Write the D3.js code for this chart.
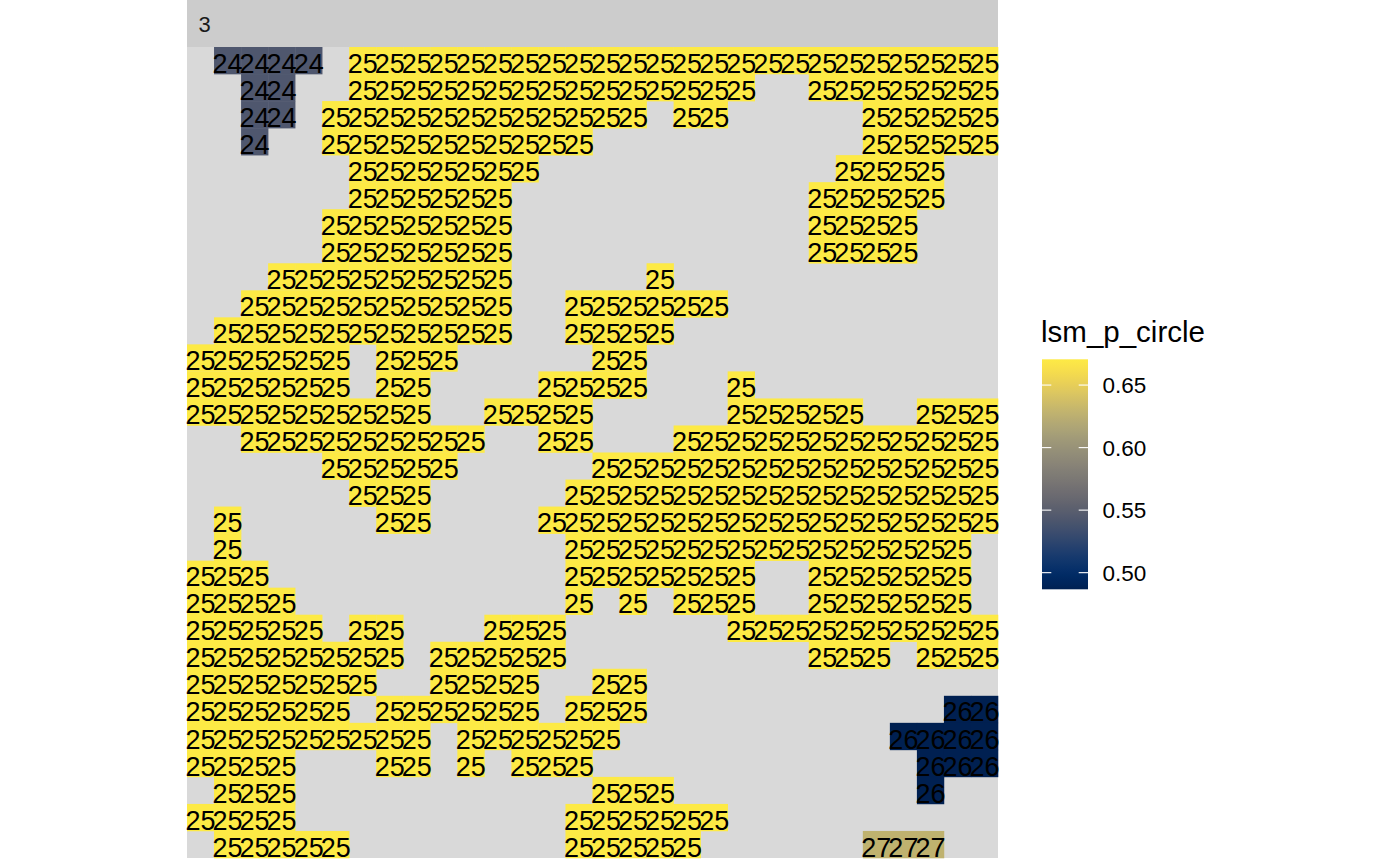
<!DOCTYPE html>
<html>
<head>
<meta charset="utf-8">
<script src="https://cdn.jsdelivr.net/npm/d3@7"></script>
<style>
  html, body { margin: 0; padding: 0; background: #ffffff; }
  svg { display: block; }
  text { font-family: "Liberation Sans", Arial, Helvetica, sans-serif; }
</style>
</head>
<body>
<svg id="chart" width="1400" height="866"></svg>
<script>
// ---- data -------------------------------------------------------------
// facet label
const facetLabel = "3";
// raster: one string per row (top to bottom), one char per column
// '.' = no patch, digit d = patch id "2d"
const gridRows = [
  ".4444.555555555555555555555555",
  "..44..555555555555555..5555555",
  "..44.555555555555.55.....55555",
  "..4..5555555555..........55555",
  "......5555555...........5555..",
  "......555555...........55555..",
  ".....5555555...........5555...",
  ".....5555555...........5555...",
  "...555555555.....5............",
  "..5555555555..555555..........",
  ".55555555555..5555............",
  "555555.555.....55.............",
  "555555.55....5555...5.........",
  "555555555..5555.....55555..555",
  "..555555555..55...555555555555",
  ".....55555.....555555555555555",
  "......555.....5555555555555555",
  ".5.....55....55555555555555555",
  ".5............555555555555555.",
  "555...........5555555..555555.",
  "5555..........5.5.555..555555.",
  "55555.55...555......5555555555",
  "55555555.55555.........555.555",
  "5555555..5555..55.............",
  "555555.555555.555...........66",
  "555555555.555555..........6666",
  "5555...55.5.555............666",
  ".555...........555.........6..",
  "5555..........555555..........",
  ".55555........55555......777.."
];
// patch ids and their lsm_p_circle values
const patchIds = [24, 25, 26, 27];
const patchValues = [0.543, 0.6706, 0.4867, 0.627];
// legend
const legendTitle = "lsm_p_circle";
const legendTicks = [0.50, 0.55, 0.60, 0.65];

// ---- build cells ------------------------------------------------------
const valueById = new Map(patchIds.map((id, i) => [id, patchValues[i]]));
const nRows = gridRows.length;
const nCols = gridRows[0].length;
const cells = [];
gridRows.forEach((row, r) => {
  for (let c = 0; c < row.length; c++) {
    const ch = row[c];
    if (ch === ".") continue;
    const id = 20 + (+ch);
    cells.push({ row: r, col: c, id: id, value: valueById.get(id) });
  }
});

// ---- layout -----------------------------------------------------------
const svg = d3.select("#chart");
const panel = { x0: 187, x1: 998, y0: 47, y1: 858 };
const strip = { y0: 0, y1: 47 };

const x = d3.scaleBand().domain(d3.range(nCols)).range([panel.x0, panel.x1]).padding(0);
const y = d3.scaleBand().domain(d3.range(nRows)).range([panel.y0, panel.y1]).padding(0);

const vmin = d3.min(patchValues), vmax = d3.max(patchValues);
const color = d3.scaleSequential(d3.interpolateCividis).domain([vmin, vmax]);

// strip
svg.append("rect")
  .attr("x", panel.x0).attr("y", strip.y0)
  .attr("width", panel.x1 - panel.x0).attr("height", strip.y1 - strip.y0)
  .attr("fill", "#cccccc");
svg.append("text")
  .attr("x", 198.5).attr("y", 31.5)
  .attr("font-size", 22).attr("fill", "#1a1a1a")
  .text(facetLabel);

// panel background
svg.append("rect")
  .attr("x", panel.x0).attr("y", panel.y0)
  .attr("width", panel.x1 - panel.x0).attr("height", panel.y1 - panel.y0)
  .attr("fill", "#d9d9d9");

// tiles
svg.append("g").selectAll("rect").data(cells).join("rect")
  .attr("x", d => x(d.col))
  .attr("y", d => y(d.row))
  .attr("width", x.bandwidth() + 0.3)
  .attr("height", y.bandwidth() + 0.3)
  .attr("fill", d => color(d.value));

// labels
const labelSize = 27;
svg.append("g").selectAll("text").data(cells).join("text")
  .attr("x", d => x(d.col) + x.bandwidth() / 2)
  .attr("y", d => y(d.row) + y.bandwidth() / 2 + 0.45 * labelSize)
  .attr("text-anchor", "middle")
  .attr("font-size", labelSize)
  .attr("fill", "#000000")
  .text(d => d.id);

// ---- legend -----------------------------------------------------------
const bar = { x: 1042, w: 46, y0: 359.3, y1: 589.3 };
const ly = d3.scaleLinear().domain([vmin, vmax]).range([bar.y1, bar.y0]);

const defs = svg.append("defs");
const grad = defs.append("linearGradient")
  .attr("id", "cbar").attr("x1", 0).attr("y1", 1).attr("x2", 0).attr("y2", 0);
d3.range(0, 1.0001, 0.02).forEach(t => {
  grad.append("stop").attr("offset", t).attr("stop-color", d3.interpolateCividis(t));
});
svg.append("rect")
  .attr("x", bar.x).attr("y", bar.y0)
  .attr("width", bar.w).attr("height", bar.y1 - bar.y0)
  .attr("fill", "url(#cbar)");

const tickLen = 9.3;
const tg = svg.append("g").selectAll("g").data(legendTicks).join("g");
tg.append("line")
  .attr("x1", bar.x).attr("x2", bar.x + tickLen)
  .attr("y1", d => ly(d)).attr("y2", d => ly(d))
  .attr("stroke", "#ffffff").attr("stroke-width", 1.1);
tg.append("line")
  .attr("x1", bar.x + bar.w - tickLen).attr("x2", bar.x + bar.w)
  .attr("y1", d => ly(d)).attr("y2", d => ly(d))
  .attr("stroke", "#ffffff").attr("stroke-width", 1.1);
const tickSize = 22.5;
tg.append("text")
  .attr("x", 1102.5)
  .attr("y", d => ly(d) + 0.358 * tickSize)
  .attr("font-size", tickSize)
  .attr("fill", "#000000")
  .text(d => d3.format(".2f")(d));

svg.append("text")
  .attr("x", 1041).attr("y", 341.7)
  .attr("font-size", 29.5)
  .attr("fill", "#000000")
  .text(legendTitle);
</script>
</body>
</html>
